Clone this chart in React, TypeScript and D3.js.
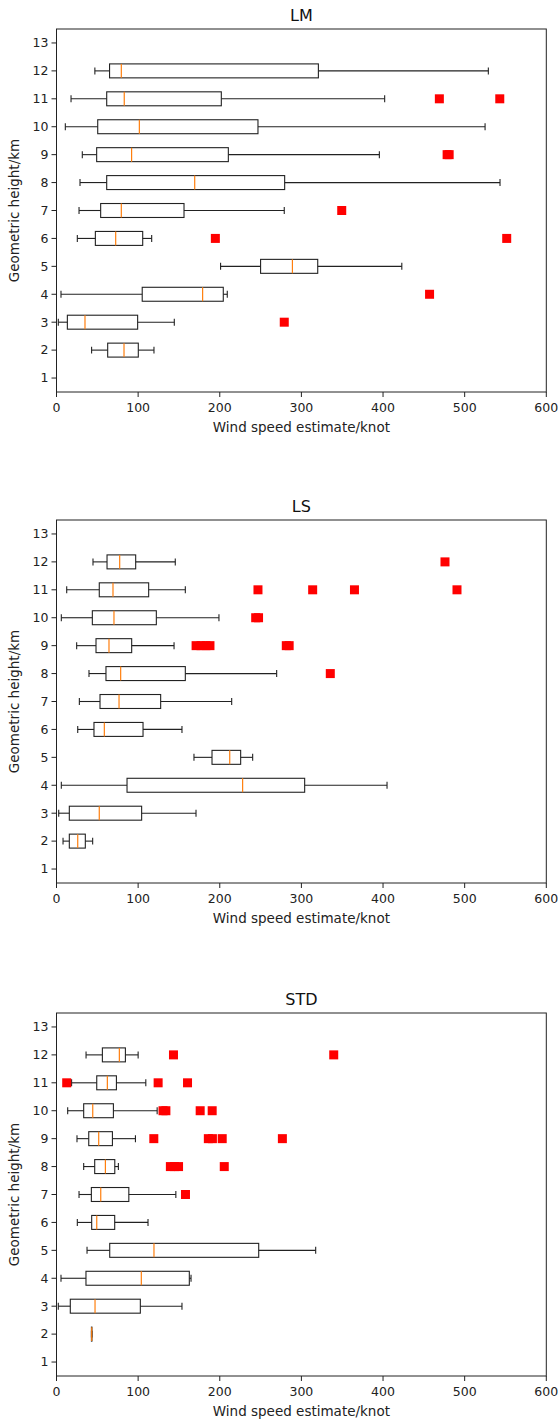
import React from "react";
import * as d3 from "d3";

const heights = [2, 3, 4, 5, 6, 7, 8, 9, 10, 11, 12];
const yTicks = [1, 2, 3, 4, 5, 6, 7, 8, 9, 10, 11, 12, 13];
const xTicks = [0, 100, 200, 300, 400, 500, 600];
const panelTitles = ["LM", "LS", "STD"];

// LM
const lmLow = [43, 2.2, 5.5, 201, 25.5, 27.6, 28.8, 31.6, 10.8, 17.8, 47];
const lmQ1 = [62.7, 13.3, 105, 250, 47.6, 54.1, 61.5, 49.2, 50.5, 61.5, 65];
const lmMed = [82.7, 34.9, 179, 289, 72.5, 79.4, 169.3, 92, 101.5, 83, 79.4];
const lmQ3 = [100.2, 99.4, 204.3, 320, 105.6, 156.2, 279.5, 210.5, 246.8, 201.9, 320.8];
const lmHigh = [119.4, 144.3, 209.2, 423, 116.6, 279, 543.3, 395.5, 525, 402, 529];
const lmOutH = [3, 4, 6, 6, 7, 9, 9, 11, 11];
const lmOutV = [279, 457, 194.6, 551.5, 349.4, 478.5, 481, 469, 543];

// LS
const lsLow = [8, 2.7, 5.9, 168.4, 26, 28, 39.8, 24.7, 5.9, 12.5, 44.7];
const lsQ1 = [15.7, 15.7, 86.4, 190.5, 45.9, 53.3, 60.6, 48.4, 43.9, 52.4, 61.9];
const lsMed = [26, 52.4, 228, 212.2, 58.6, 76.6, 78.6, 64.3, 70.4, 69.2, 77.4];
const lsQ3 = [35.3, 104.3, 304, 225.6, 106, 127.6, 157.8, 92.1, 122.3, 112.9, 97];
const lsHigh = [44.3, 170.9, 404.9, 240.3, 153.7, 214.6, 269.7, 144, 199, 157.8, 145.5];
const lsOutH = [8, 9, 9, 9, 9, 9, 9, 10, 10, 11, 11, 11, 11, 12];
const lsOutV = [335.4, 171, 177, 183, 188, 281.5, 285, 244, 247.5, 246.8, 313.8, 365, 490.6, 475.9];

// STD
const stdLow = [42.8, 2.2, 5.5, 37.4, 25.5, 27.6, 33.3, 25.1, 13.7, 18.5, 36.2];
const stdQ1 = [42.8, 16.9, 36.1, 65.2, 43.1, 42.7, 46.8, 39.5, 33.3, 49.3, 56.2];
const stdMed = [43.1, 47.2, 103.9, 119.4, 49.3, 54.2, 59.9, 51.7, 44.4, 62.3, 77];
const stdQ3 = [43.4, 102.7, 162.7, 247.7, 71.3, 88.6, 71.4, 68.5, 69.7, 73.4, 84.4];
const stdHigh = [43.4, 153.7, 164.8, 317.5, 112.1, 146.2, 75.8, 96.7, 123.3, 109.4, 100];
const stdOutH = [7, 8, 8, 8, 8, 9, 9, 9, 9, 9, 10, 10, 10, 10, 11, 11, 11, 12, 12];
const stdOutV = [158, 139.5, 144.5, 149.5, 205.5, 119.2, 186, 191, 203, 276.7, 130.5, 134, 176, 190.7, 12.5, 124.5, 160.5, 143.3, 339.6];

const panelsData = [
  { low: lmLow, q1: lmQ1, med: lmMed, q3: lmQ3, high: lmHigh, outH: lmOutH, outV: lmOutV },
  { low: lsLow, q1: lsQ1, med: lsMed, q3: lsQ3, high: lsHigh, outH: lsOutH, outV: lsOutV },
  { low: stdLow, q1: stdQ1, med: stdMed, q3: stdQ3, high: stdHigh, outH: stdOutH, outV: stdOutV },
];

const W = 560;
const H = 1419;
const left = 56.5;
const right = 546.3;
const panelTops = [29, 520, 1013];
const panelH = 363;
const FONT = "DejaVu Sans, sans-serif";

function Panel({ idx }: { idx: number }) {
  const top = panelTops[idx];
  const d = panelsData[idx];
  const xs = d3.scaleLinear().domain([0, 600]).range([left, right]);
  const ys = d3.scaleLinear().domain([0.5, 13.5]).range([top + panelH, top]);
  const unit = Math.abs(ys(1) - ys(0));
  const boxH = unit * 0.5;
  const capH = unit * 0.25;
  const stroke = "#222";
  return (
    <g>
      <text x={(left + right) / 2} y={top - 8} textAnchor="middle" fontSize={16} fontFamily={FONT} fill="#111">
        {panelTitles[idx]}
      </text>
      {heights.map((h, i) => {
        const y = ys(h);
        return (
          <g key={h}>
            <line x1={xs(d.low[i])} x2={xs(d.q1[i])} y1={y} y2={y} stroke={stroke} strokeWidth={1.1} />
            <line x1={xs(d.q3[i])} x2={xs(d.high[i])} y1={y} y2={y} stroke={stroke} strokeWidth={1.1} />
            <line x1={xs(d.low[i])} x2={xs(d.low[i])} y1={y - capH / 2} y2={y + capH / 2} stroke={stroke} strokeWidth={1.1} />
            <line x1={xs(d.high[i])} x2={xs(d.high[i])} y1={y - capH / 2} y2={y + capH / 2} stroke={stroke} strokeWidth={1.1} />
            <rect x={xs(d.q1[i])} y={y - boxH / 2} width={Math.max(0.1, xs(d.q3[i]) - xs(d.q1[i]))} height={boxH} fill="none" stroke={stroke} strokeWidth={1.1} />
            <line x1={xs(d.med[i])} x2={xs(d.med[i])} y1={y - boxH / 2} y2={y + boxH / 2} stroke="#ff7f0e" strokeWidth={1.2} />
          </g>
        );
      })}
      {d.outH.map((h, i) => (
        <rect key={"o" + i} x={xs(d.outV[i]) - 4.5} y={ys(h) - 4.5} width={9} height={9} fill="#ff0000" />
      ))}
      <rect x={left} y={top} width={right - left} height={panelH} fill="none" stroke="#222" strokeWidth={1} />
      {yTicks.map((t) => (
        <g key={"y" + t}>
          <line x1={left - 5} x2={left} y1={ys(t)} y2={ys(t)} stroke="#222" strokeWidth={1} />
          <text x={left - 8} y={ys(t)} dy="0.35em" textAnchor="end" fontSize={12.5} fontFamily={FONT} fill="#222">
            {t}
          </text>
        </g>
      ))}
      {xTicks.map((t) => (
        <g key={"x" + t}>
          <line x1={xs(t)} x2={xs(t)} y1={top + panelH} y2={top + panelH + 5} stroke="#222" strokeWidth={1} />
          <text x={xs(t)} y={top + panelH + 20} textAnchor="middle" fontSize={12.5} fontFamily={FONT} fill="#222">
            {t}
          </text>
        </g>
      ))}
      <text x={(left + right) / 2} y={top + panelH + 40} textAnchor="middle" fontSize={13.5} fontFamily={FONT} fill="#222">
        Wind speed estimate/knot
      </text>
      <text
        transform={`translate(19, ${top + panelH / 2}) rotate(-90)`}
        textAnchor="middle"
        fontSize={13.5}
        fontFamily={FONT}
        fill="#222"
      >
        Geometric height/km
      </text>
    </g>
  );
}

export default function App() {
  return (
    <svg width={W} height={H} style={{ position: "absolute", left: 0, top: 0, background: "#fff" }}>
      <rect x={0} y={0} width={W} height={H} fill="#fff" />
      {[0, 1, 2].map((i) => (
        <Panel key={i} idx={i} />
      ))}
    </svg>
  );
}
